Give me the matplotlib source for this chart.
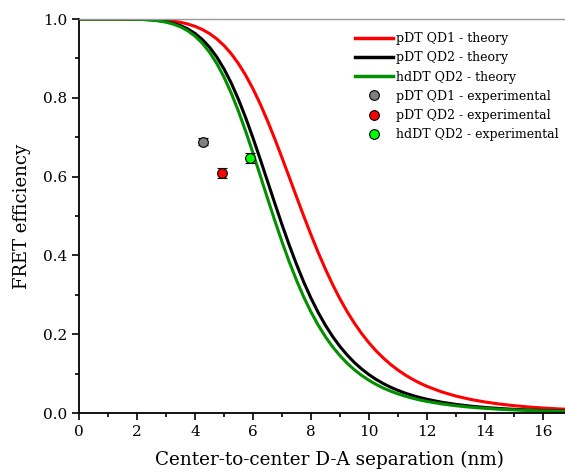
import matplotlib
matplotlib.use("Agg")
import matplotlib.pyplot as plt
from matplotlib.ticker import MultipleLocator, FormatStrFormatter
from matplotlib.lines import Line2D

plt.rcParams["font.family"] = ["DejaVu Serif"]

# separation (nm) at which the theory curves were read
sep = [0, 0.5, 1, 1.5,
       2, 2.25, 2.5, 2.75, 3, 3.25, 3.5, 3.75, 4, 4.25, 4.5, 4.75,
       5, 5.25, 5.5, 5.75, 6, 6.25, 6.5, 6.75, 7, 7.25, 7.5, 7.75,
       8, 8.25, 8.5, 8.75, 9, 9.25, 9.5, 9.75, 10, 10.25, 10.5, 10.75,
       11, 11.25, 11.5, 11.75, 12,
       12.5, 13, 13.5, 14, 14.5, 15, 15.5, 16, 16.5, 17]

pdt_qd1_theory = [1.000, 1.000, 1.000, 1.000,
                  0.9997, 0.9994, 0.9989, 0.9980, 0.9966, 0.9946, 0.9916, 0.9873,
                  0.9815, 0.9735, 0.9631, 0.9497, 0.9327, 0.9119, 0.8867, 0.8571,
                  0.8228, 0.7843, 0.7418, 0.6961, 0.6481, 0.5987, 0.5490, 0.5000,
                  0.4525, 0.4073, 0.3649, 0.3256, 0.2896, 0.2570, 0.2277, 0.2014,
                  0.1781, 0.1574, 0.1392, 0.1231, 0.1090, 0.0966, 0.0857, 0.0761,
                  0.0677,
                  0.0538, 0.0430, 0.0346, 0.0280, 0.0228, 0.0187, 0.0154, 0.0128,
                  0.0106, 0.0089]
pdt_qd2_theory = [1.000, 1.000, 1.000, 1.000,
                  0.9994, 0.9988, 0.9977, 0.9960, 0.9933, 0.9892, 0.9833, 0.9749,
                  0.9634, 0.9482, 0.9286, 0.9038, 0.8735, 0.8375, 0.7959, 0.7491,
                  0.6981, 0.6442, 0.5886, 0.5329, 0.4784, 0.4263, 0.3775, 0.3325,
                  0.2916, 0.2550, 0.2225, 0.1938, 0.1688, 0.1470, 0.1280, 0.1116,
                  0.0974, 0.0851, 0.0745, 0.0654, 0.0574, 0.0505, 0.0446, 0.0394,
                  0.0349,
                  0.0275, 0.0219, 0.0175, 0.0141, 0.0115, 0.0094, 0.0078, 0.0064,
                  0.0053, 0.0045]
hddt_qd2_theory = [1.000, 1.000, 1.000, 1.000,
                   0.9993, 0.9986, 0.9973, 0.9952, 0.9920, 0.9871, 0.9801, 0.9702,
                   0.9567, 0.9388, 0.9159, 0.8873, 0.8527, 0.8120, 0.7657, 0.7145,
                   0.6598, 0.6028, 0.5453, 0.4889, 0.4347, 0.3838, 0.3370, 0.2945,
                   0.2565, 0.2229, 0.1934, 0.1677, 0.1455, 0.1262, 0.1096, 0.0953,
                   0.0830, 0.0724, 0.0632, 0.0554, 0.0486, 0.0427, 0.0376, 0.0332,
                   0.0294,
                   0.0232, 0.0184, 0.0147, 0.0119, 0.0096, 0.0079, 0.0065, 0.0054,
                   0.0045, 0.0037]

theory_labels = ["pDT QD1 - theory", "pDT QD2 - theory", "hdDT QD2 - theory"]
theory_colors = ["#ff0000", "black", "#009000"]

# experimental points: separation, efficiency, error
exp_labels = ["pDT QD1 - experimental", "pDT QD2 - experimental",
              "hdDT QD2 - experimental"]
exp_x = [4.28, 4.93, 5.9]
exp_y = [0.689, 0.609, 0.648]
exp_err = [0.010, 0.012, 0.013]
exp_colors = ["#808080", "#ff0000", "#00ff00"]

fig = plt.figure(figsize=(5.65, 4.73), dpi=100)
ax = fig.add_axes([0.1398, 0.1268, 0.8602, 0.833])

curves = [pdt_qd1_theory, pdt_qd2_theory, hddt_qd2_theory]
for vals, col in zip(curves, theory_colors):
    ax.plot(sep, vals, color=col, lw=2.2, solid_joinstyle="round")

for i in range(3):
    ax.errorbar(exp_x[i], exp_y[i], yerr=exp_err[i], fmt="o", ms=7,
                mfc=exp_colors[i], mec="black", mew=0.8, ecolor="black",
                elinewidth=1, capsize=3.5, capthick=1, zorder=5)

ax.set_xlim(0, 16.76)
ax.set_ylim(0, 1.0)
ax.xaxis.set_major_locator(MultipleLocator(2))
ax.xaxis.set_minor_locator(MultipleLocator(1))
ax.yaxis.set_major_locator(MultipleLocator(0.2))
ax.yaxis.set_minor_locator(MultipleLocator(0.1))
ax.yaxis.set_major_formatter(FormatStrFormatter("%.1f"))
ax.tick_params(which="major", direction="out", length=5, width=1.2, labelsize=11)
ax.tick_params(which="minor", direction="out", length=3, width=1.2)

ax.spines["right"].set_visible(False)
ax.spines["top"].set_color("#999999")
ax.spines["top"].set_linewidth(1)
ax.spines["left"].set_linewidth(1.3)
ax.spines["bottom"].set_linewidth(1.3)

ax.set_xlabel("Center-to-center D-A separation (nm)", fontsize=13.2)
ax.set_ylabel("FRET efficiency", fontsize=13)
ax.xaxis.set_label_coords(0.515, -0.097)
ax.yaxis.set_label_coords(-0.099, 0.5)

handles = [Line2D([], [], color=c, lw=2.5) for c in theory_colors]
handles += [Line2D([], [], ls="none", marker="o", ms=7, mfc=c, mec="black",
                   mew=0.8) for c in exp_colors]
ax.legend(handles, theory_labels + exp_labels, loc="upper left", frameon=False,
          fontsize=9, handlelength=3.0, handletextpad=0.25, labelspacing=0.5,
          borderpad=0, borderaxespad=0, bbox_to_anchor=(0.568, 0.967))

fig.savefig("out.png", dpi=100)
